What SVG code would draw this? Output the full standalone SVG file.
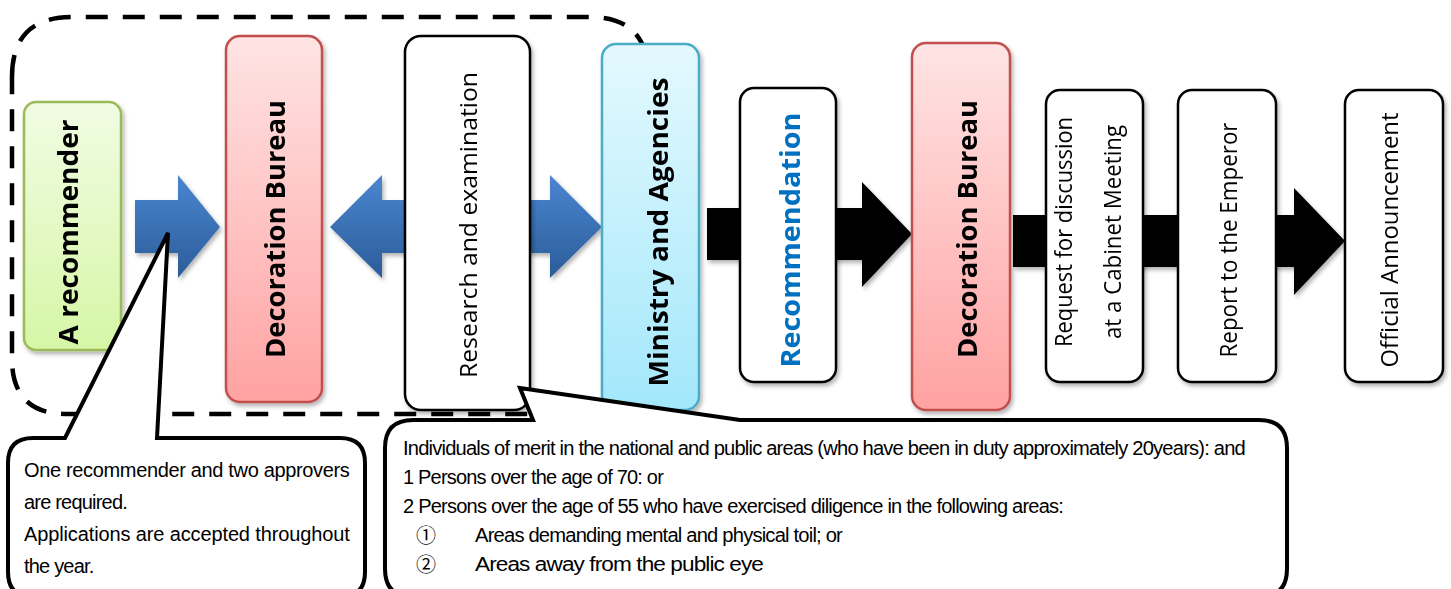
<svg xmlns="http://www.w3.org/2000/svg" width="1451" height="589" viewBox="0 0 1451 589">
<defs>
<linearGradient id="gGreen" x1="0" y1="0" x2="0" y2="1"><stop offset="0" stop-color="#f1fce4"/><stop offset="1" stop-color="#d6f6a6"/></linearGradient>
<linearGradient id="gPink" x1="0" y1="0" x2="0" y2="1"><stop offset="0" stop-color="#ffe4e4"/><stop offset="1" stop-color="#ffa2a2"/></linearGradient>
<linearGradient id="gCyan" x1="0" y1="0" x2="0" y2="1"><stop offset="0" stop-color="#e4f9fe"/><stop offset="1" stop-color="#a3e7fb"/></linearGradient>
<linearGradient id="gBlue" x1="0" y1="0" x2="0" y2="1"><stop offset="0" stop-color="#4a86d0"/><stop offset="1" stop-color="#2b5c99"/></linearGradient>
<filter id="sh" x="-20%" y="-10%" width="140%" height="125%"><feDropShadow dx="2" dy="3" stdDeviation="2" flood-color="#000" flood-opacity="0.3"/></filter>
</defs>
<style>
.box{stroke-width:2.5}
.plain{fill:#fff;stroke:#000}
.bt{font-family:"Open Sans","Noto Sans","DejaVu Sans",sans-serif;font-weight:bold;font-size:26px;fill:#000}
.rt{font-family:"Open Sans","Noto Sans","DejaVu Sans",sans-serif;font-size:23px;fill:#000}
.ct{font-family:"Liberation Sans","Noto Sans CJK JP",sans-serif;font-size:20px;letter-spacing:-0.8px;fill:#000}
.num{font-family:"Noto Sans CJK JP","DejaVu Sans",sans-serif;font-size:20px;fill:#000}
.co{fill:#fff;stroke:#000;stroke-width:4;stroke-linejoin:miter}
</style>
<path d="M 12,77 Q 12,17 72,17 L 590,17 Q 648,17 648,75 L 648,356 Q 648,414 590,414 L 67,414 Q 12,414 12,359 Z" fill="none" stroke="#000" stroke-width="4.5" stroke-dasharray="22 15"/>
<g id="connectors" filter="url(#sh)">
<polygon points="135,200 178,200 178,175 220,227 178,278 178,253 135,253" fill="url(#gBlue)"/>
<polygon points="330,227 382,175 382,200 550,200 550,175 602,227 550,278 550,253 382,253 382,278" fill="url(#gBlue)"/>
<polygon points="707,208 862,208 862,182 912,234 862,287 862,260 707,260" fill="#000"/>
<polygon points="1013,215 1294,215 1294,188 1345,241 1294,295 1294,267 1013,267" fill="#000"/>
</g>
<g id="n1" filter="url(#sh)"><rect x="24" y="102" width="97" height="248" rx="12" fill="url(#gGreen)" stroke="#9bbb59" class="box"/>
<text class="bt" transform="translate(78,232) rotate(-90)" text-anchor="middle" textLength="225" lengthAdjust="spacingAndGlyphs">A recommender</text></g>
<g id="n2" filter="url(#sh)"><rect x="226" y="36" width="96" height="366" rx="14" fill="url(#gPink)" stroke="#c0504d" class="box"/>
<text class="bt" transform="translate(285,229) rotate(-90)" text-anchor="middle" textLength="258" lengthAdjust="spacingAndGlyphs">Decoration Bureau</text></g>
<g id="n3" filter="url(#sh)"><rect x="405" y="36" width="125" height="374" rx="16" class="box plain"/>
<text class="rt" transform="translate(477,225) rotate(-90)" text-anchor="middle" textLength="306" lengthAdjust="spacingAndGlyphs">Research and examination</text></g>
<g id="n4" filter="url(#sh)"><rect x="602" y="44" width="97" height="366" rx="14" fill="url(#gCyan)" stroke="#4bacc6" class="box"/>
<text class="bt" transform="translate(668,232) rotate(-90)" text-anchor="middle" textLength="309" lengthAdjust="spacingAndGlyphs">Ministry and Agencies</text></g>
<g id="n5" filter="url(#sh)"><rect x="740" y="88" width="96" height="294" rx="14" class="box plain"/>
<text class="bt" style="fill:#0070c0" transform="translate(800,240) rotate(-90)" text-anchor="middle" textLength="255" lengthAdjust="spacingAndGlyphs">Recommendation</text></g>
<g id="n6" filter="url(#sh)"><rect x="912" y="43" width="98" height="367" rx="14" fill="url(#gPink)" stroke="#c0504d" class="box"/>
<text class="bt" transform="translate(977,229) rotate(-90)" text-anchor="middle" textLength="258" lengthAdjust="spacingAndGlyphs">Decoration Bureau</text></g>
<g id="n7" filter="url(#sh)"><rect x="1046" y="90" width="97" height="292" rx="14" class="box plain"/>
<text class="rt" transform="translate(1072,232) rotate(-90)" text-anchor="middle" textLength="230" lengthAdjust="spacingAndGlyphs">Request for discussion</text>
<text class="rt" transform="translate(1121,232) rotate(-90)" text-anchor="middle" textLength="214" lengthAdjust="spacingAndGlyphs">at a Cabinet Meeting</text></g>
<g id="n8" filter="url(#sh)"><rect x="1178" y="90" width="98" height="292" rx="14" class="box plain"/>
<text class="rt" transform="translate(1237,240) rotate(-90)" text-anchor="middle" textLength="235" lengthAdjust="spacingAndGlyphs">Report to the Emperor</text></g>
<g id="n9" filter="url(#sh)"><rect x="1345" y="90" width="98" height="292" rx="14" class="box plain"/>
<text class="rt" transform="translate(1398,240) rotate(-90)" text-anchor="middle" textLength="255" lengthAdjust="spacingAndGlyphs">Official Announcement</text></g>
<g id="callout1">
<path class="co" d="M 33,438 L 65,438 L 168,233 L 157,438 L 340,438 Q 365,438 365,463 L 365,572 Q 365,597 340,597 L 33,597 Q 8,597 8,572 L 8,463 Q 8,438 33,438 Z"/>
<text class="ct" x="24" y="477" textLength="325" lengthAdjust="spacing">One recommender and two approvers</text>
<text class="ct" x="24" y="509">are required.</text>
<text class="ct" x="24" y="541" textLength="325" lengthAdjust="spacing">Applications are accepted throughout</text>
<text class="ct" x="24" y="573">the year.</text>
</g>
<g id="callout2">
<path class="co" d="M 413,420 L 533,420 L 520,388 L 740,420 L 1259,420 Q 1287,420 1287,448 L 1287,569 Q 1287,597 1259,597 L 413,597 Q 385,597 385,569 L 385,448 Q 385,420 413,420 Z"/>
<text class="ct" x="403" y="455" textLength="842" lengthAdjust="spacingAndGlyphs">Individuals of merit in the national and public areas (who have been in duty approximately 20years): and</text>
<text class="ct" x="403" y="484" textLength="260" lengthAdjust="spacingAndGlyphs">1 Persons over the age of 70: or</text>
<text class="ct" x="403" y="513" textLength="660" lengthAdjust="spacingAndGlyphs">2 Persons over the age of 55 who have exercised diligence in the following areas:</text>
<text class="num" x="416" y="543">①</text>
<text class="ct" x="475" y="542" textLength="367" lengthAdjust="spacingAndGlyphs">Areas demanding mental and physical toil; or</text>
<text class="num" x="416" y="572">②</text>
<text class="ct" x="475" y="571" textLength="288" lengthAdjust="spacingAndGlyphs">Areas away from the public eye</text>
</g>
</svg>
